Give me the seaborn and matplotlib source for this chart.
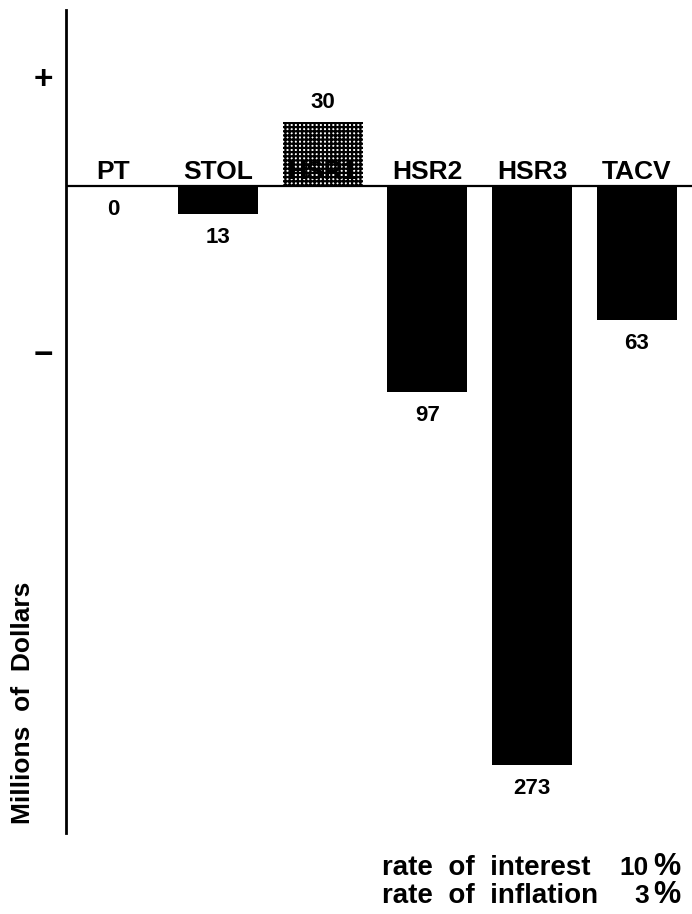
import matplotlib
matplotlib.use("Agg")
import matplotlib.pyplot as plt
import seaborn as sns
import pandas as pd

# Net present value by transport system (millions of dollars)
systems = ["PT", "STOL", "HSR1", "HSR2", "HSR3", "TACV"]
net_values = [0, -13, 30, -97, -273, -63]
value_labels = ["0", "13", "30", "97", "273", "63"]
rate_names = ["rate of interest", "rate of inflation"]
rate_values = ["10", "3"]

sns.set_theme(style="white")
plt.rcParams["font.family"] = ["Liberation Sans", "DejaVu Sans"]
plt.rcParams["hatch.linewidth"] = 1.6
for key in ["text.color", "axes.labelcolor", "xtick.color", "ytick.color"]:
    plt.rcParams[key] = "black"

W, H = 692, 914
fig = plt.figure(figsize=(W / 100, H / 100), dpi=100)
ax = fig.add_axes([66 / W, (H - 833) / H, (W - 66) / W, 823 / H])

df = pd.DataFrame({"system": systems, "value": net_values})
sns.barplot(data=df, x="system", y="value", order=systems, color="black",
            saturation=1, width=0.765, ax=ax, linewidth=0)

# cross-hatched bar for the single positive system
for patch, v in zip(ax.patches, net_values):
    if v > 0:
        patch.set_facecolor("white")
        patch.set_edgecolor("black")
        patch.set_hatch("++++")
        patch.set_linewidth(0)

ax.set_xlim(-0.453, 5.528)
scale = 579 / 273  # pixels per unit
ax.set_ylim(-647 / scale, 176 / scale)

ax.axhline(0, color="black", lw=1.6, zorder=3)

for i, (name, v, lab) in enumerate(zip(systems, net_values, value_labels)):
    ax.annotate(name, (i, 0), xytext=(0, 1.5), textcoords="offset points",
                ha="center", va="bottom", fontsize=19, fontweight="bold",
                color="black", zorder=4)
    if v > 0:
        ax.annotate(lab, (i, v), xytext=(0, 14), textcoords="offset points",
                    ha="center", va="center", fontsize=16, fontweight="bold")
    else:
        ax.annotate(lab, (i, v), xytext=(0, -17), textcoords="offset points",
                    ha="center", va="center", fontsize=16, fontweight="bold")

# sign markers on the value axis
ax.set_yticks([(186 - 77) / scale, (186 - 352) / scale])
ax.set_yticklabels(["+", "\u2212"], fontsize=24, fontweight="bold")
ax.tick_params(axis="y", length=0, pad=9)
ax.set_xticks([])
ax.set_xlabel("")
ax.set_ylabel("")

for side in ["top", "right", "bottom"]:
    ax.spines[side].set_visible(False)
ax.spines["left"].set_color("black")
ax.spines["left"].set_linewidth(2)

fig.text(23 / W, 1 - 703 / H, "Millions  of  Dollars", rotation=90,
         ha="center", va="center", fontsize=19, fontweight="bold")

for k, (name, val) in enumerate(zip(rate_names, rate_values)):
    y = 1 - (875 + 28 * k) / H
    fig.text(382 / W, y, name.replace(" ", "  "), ha="left", va="baseline",
             fontsize=20, fontweight="bold")
    fig.text(649 / W, y, val, ha="right", va="baseline",
             fontsize=19, fontweight="bold")
    fig.text(653 / W, y, "%", ha="left", va="baseline",
             fontsize=22, fontweight="bold")

fig.savefig("out.png", dpi=100, facecolor="white")
